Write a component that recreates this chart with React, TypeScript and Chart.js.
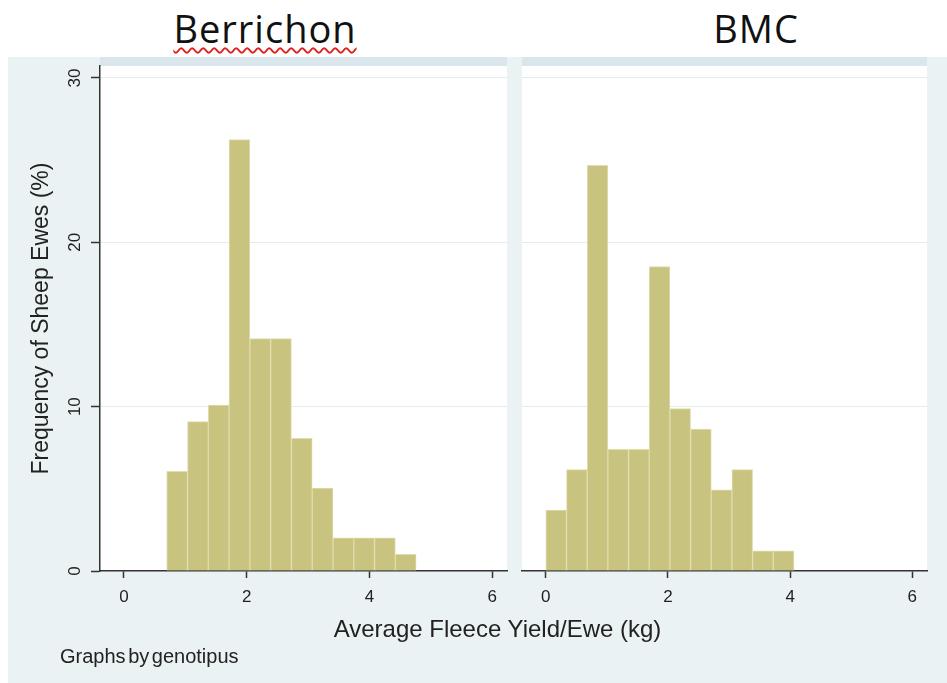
import React, { useEffect, useRef } from "react";
import { Chart, registerables } from "chart.js";

Chart.register(...registerables);

// ---- data ----
const panelTitles = ["Berrichon", "BMC"];
// histogram bin edges (kg)
const berrichonEdges = [0.697, 1.036, 1.374, 1.713, 2.051, 2.39, 2.728, 3.067, 3.405, 3.744, 4.082, 4.421, 4.759];
// percent of ewes per bin
const berrichonPercent = [6.06, 9.09, 10.1, 26.26, 14.14, 14.14, 8.08, 5.05, 2.02, 2.02, 2.02, 1.01];
const bmcEdges = [0.0, 0.339, 0.677, 1.016, 1.354, 1.693, 2.031, 2.37, 2.708, 3.047, 3.385, 3.724, 4.062];
const bmcPercent = [3.7, 6.17, 24.69, 7.41, 7.41, 18.52, 9.88, 8.64, 4.94, 6.17, 1.23, 1.23];
const xTickValues = [0, 2, 4, 6];
const yTickValues = [0, 10, 20, 30];
const yTitle = "Frequency of Sheep Ewes (%)";
const xTitle = "Average Fleece Yield/Ewe (kg)";
const noteText = "Graphs by genotipus";

const AXIS_FONT = "'Liberation Sans', Arial, Helvetica, sans-serif";
const BAR_FILL = "#c8c37e";
const BAR_EDGE = "#e0ddaf";
const AXIS_COLOR = "#333333";
const GRID_COLOR = "#e4ecef";
const TEXT_COLOR = "#222222";

const plotBackground = {
  id: "plotBackground",
  beforeDraw(chart: any) {
    const { ctx, chartArea: a } = chart;
    ctx.save();
    ctx.fillStyle = "#ffffff";
    ctx.fillRect(a.left, a.top, a.right - a.left, a.bottom - a.top);
    ctx.restore();
  },
};

// vertical (rotated) y tick labels, placed through the y scale
const rotatedYLabels = {
  id: "rotatedYLabels",
  afterDraw(chart: any) {
    const s = chart.scales.y;
    if (!s || !s.options.ticks._rotatedLabels) return;
    const { ctx } = chart;
    ctx.save();
    ctx.fillStyle = TEXT_COLOR;
    ctx.font = `17px ${AXIS_FONT}`;
    ctx.textAlign = "center";
    ctx.textBaseline = "middle";
    for (const t of s.ticks) {
      const py = s.getPixelForValue(t.value);
      ctx.save();
      ctx.translate(s.right - 24.5, py);
      ctx.rotate(-Math.PI / 2);
      ctx.fillText(String(t.value), 0, 0);
      ctx.restore();
    }
    ctx.restore();
  },
};

function makeConfig(edges: number[], values: number[], isLeft: boolean): any {
  const points = values.map((v, i) => ({ x: (edges[i] + edges[i + 1]) / 2, y: v }));
  return {
    type: "bar",
    data: {
      datasets: [
        {
          data: points,
          backgroundColor: BAR_FILL,
          borderColor: BAR_EDGE,
          borderWidth: 1,
          borderSkipped: "bottom",
          barPercentage: 1,
          categoryPercentage: 1,
          grouped: false,
        },
      ],
    },
    options: {
      animation: false,
      responsive: false,
      maintainAspectRatio: false,
      layout: { padding: { left: isLeft ? 0 : 10, right: isLeft ? 5 : 20, top: 9, bottom: 0 } },
      plugins: {
        legend: { display: false },
        tooltip: { enabled: false },
        title: { display: false },
      },
      scales: {
        x: {
          type: "linear",
          min: -0.39,
          max: 6.24,
          offset: false,
          afterBuildTicks: (s: any) => {
            s.ticks = xTickValues.map((v) => ({ value: v }));
          },
          afterFit: (s: any) => {
            s.height = 112;
            s.paddingLeft = 0;
            s.paddingRight = 0;
          },
          grid: {
            display: true,
            offset: false,
            drawOnChartArea: false,
            drawTicks: true,
            tickLength: 7,
            tickColor: AXIS_COLOR,
            tickWidth: 1.5,
          },
          border: { display: true, color: AXIS_COLOR, width: 1.5 },
          ticks: {
            autoSkip: false,
            maxRotation: 0,
            padding: 9,
            color: TEXT_COLOR,
            font: { family: AXIS_FONT, size: 17 },
          },
        },
        y: {
          type: "linear",
          min: 0,
          max: 30.73,
          afterBuildTicks: (s: any) => {
            s.ticks = yTickValues.map((v) => ({ value: v }));
          },
          afterFit: (s: any) => {
            s.width = isLeft ? 92 : 0;
            s.paddingTop = 0;
            s.paddingBottom = 0;
          },
          grid: {
            color: (c: any) => (c.tick && c.tick.value === 0 ? "rgba(0,0,0,0)" : GRID_COLOR),
            lineWidth: 1,
            drawTicks: isLeft,
            tickLength: 9,
            tickColor: AXIS_COLOR,
            tickWidth: 1.5,
          },
          border: { display: isLeft, color: AXIS_COLOR, width: 1.5 },
          ticks: {
            display: false,
            _rotatedLabels: isLeft,
          },
          title: {
            display: isLeft,
            text: yTitle,
            color: TEXT_COLOR,
            font: { family: AXIS_FONT, size: 23 },
            padding: { top: 20.2, bottom: 0 },
          },
        },
      },
    },
    plugins: [plotBackground, rotatedYLabels],
  };
}

function Panel(props: { edges: number[]; values: number[]; isLeft: boolean; left: number; width: number }) {
  const ref = useRef<HTMLCanvasElement | null>(null);
  useEffect(() => {
    if (!ref.current) return;
    const chart = new Chart(ref.current, makeConfig(props.edges, props.values, props.isLeft));
    return () => chart.destroy();
  }, []);
  return (
    <canvas
      ref={ref}
      width={props.width}
      height={626}
      style={{ position: "absolute", left: props.left, top: 57, width: props.width, height: 626 }}
    />
  );
}

const titleStyle: any = {
  position: "absolute",
  top: 9,
  width: 200,
  textAlign: "center",
  fontFamily: "'Open Sans', sans-serif",
  fontSize: 38,
  lineHeight: "38px",
  letterSpacing: "1px",
  color: "#111111",
};

export default function App() {
  useEffect(() => {
    document.body.style.margin = "0";
  }, []);
  return (
    <div style={{ position: "absolute", left: 0, top: 0, width: 947, height: 683, background: "#ffffff", overflow: "hidden" }}>
      <div style={{ position: "absolute", left: 8, top: 57, width: 939, height: 626, background: "#eaf2f3" }} />
      <div style={{ position: "absolute", left: 100, top: 57, width: 407, height: 9, background: "#d9e6eb" }} />
      <div style={{ position: "absolute", left: 522, top: 57, width: 405, height: 9, background: "#d9e6eb" }} />
      <div style={{ ...titleStyle, left: 165 }}>
        <span
          style={{
            textDecorationLine: "underline",
            textDecorationStyle: "wavy",
            textDecorationColor: "#e0201c",
            textDecorationThickness: "1.5px",
            textUnderlineOffset: "4px",
          }}
        >
          {panelTitles[0]}
        </span>
      </div>
      <div style={{ ...titleStyle, left: 656 }}>{panelTitles[1]}</div>
      <Panel edges={berrichonEdges} values={berrichonPercent} isLeft={true} left={8} width={504} />
      <Panel edges={bmcEdges} values={bmcPercent} isLeft={false} left={512} width={435} />
      <div
        style={{
          position: "absolute",
          left: 297.5,
          top: 616.5,
          width: 400,
          textAlign: "center",
          fontFamily: AXIS_FONT,
          fontSize: 24,
          lineHeight: "24px",
          color: TEXT_COLOR,
          whiteSpace: "nowrap",
        }}
      >
        {xTitle}
      </div>
      <div
        style={{
          position: "absolute",
          left: 60,
          top: 646,
          fontFamily: AXIS_FONT,
          fontSize: 20,
          lineHeight: "20px",
          wordSpacing: "-3px",
          color: TEXT_COLOR,
          whiteSpace: "nowrap",
        }}
      >
        {noteText}
      </div>
    </div>
  );
}
